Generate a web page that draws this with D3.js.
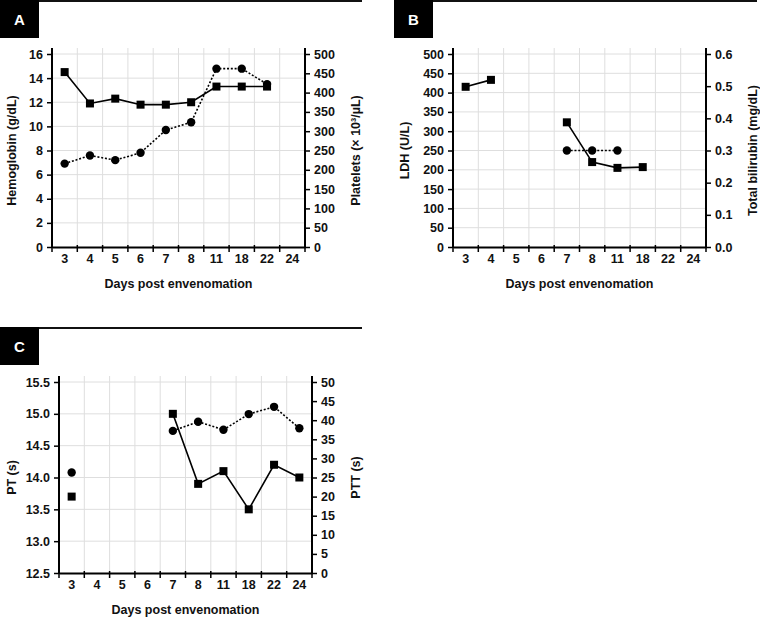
<!DOCTYPE html>
<html lang="en">
<head>
    <meta charset="UTF-8">
    <title>Days post envenomation</title>
    <script src="https://d3js.org/d3.v7.min.js"></script>
    <style>
        body { margin: 0; background: #fff; }
        svg { font-family: "Liberation Sans", Arial, sans-serif; }
        .tick text { font-size: 12.5px; font-weight: bold; fill: #111; }
        .title { font-size: 12.5px; font-weight: bold; fill: #111; }
        .grid line { stroke: #dedede; stroke-width: 1; }
        .line { fill: none; stroke: #000; stroke-width: 1.6; }
        .dotted { stroke-dasharray: 2,1.8; }
    </style>
</head>
<body>
    <svg width="760" height="618"></svg>

    <script>
        // shared categories on x
        const days = ["3", "4", "5", "6", "7", "8", "11", "18", "22", "24"];

        // panel A
        const hemoglobin = [14.5, 11.9, 12.3, 11.8, 11.8, 12.0, 13.3, 13.3, 13.3, null];
        const platelets = [216, 237, 225, 244, 303, 323, 462, 462, 422, null];
        const hbTicks = [0, 2, 4, 6, 8, 10, 12, 14, 16];
        const pltTicks = [0, 50, 100, 150, 200, 250, 300, 350, 400, 450, 500];

        // panel B
        const ldh = [415, 433, null, null, 323, 220, 205, 207, null, null];
        const bilirubin = [null, null, null, null, 0.3, 0.3, 0.3, null, null, null];
        const ldhTicks = [0, 50, 100, 150, 200, 250, 300, 350, 400, 450, 500];
        const biliTicks = [0, 0.1, 0.2, 0.3, 0.4, 0.5, 0.6];

        // panel C
        const pt = [13.7, null, null, null, 15.0, 13.9, 14.1, 13.5, 14.2, 14.0];
        const ptt = [26.3, null, null, null, 37.2, 39.6, 37.5, 41.6, 43.5, 37.9];
        const ptTicks = [12.5, 13.0, 13.5, 14.0, 14.5, 15.0, 15.5];
        const pttTicks = [0, 5, 10, 15, 20, 25, 30, 35, 40, 45, 50];

        const svg = d3.select("svg");

        const panels = [
            { label: "A", box: [0, 0], lineTo: 362, left: 52, right: 305, top: 54, bottom: 247, xTitleY: 288,
              lTitle: "Hemoglobin (g/dL)", lTitleX: 12, rTitle: "Platelets (\u00d7 10\u00b3/\u00b5L)", rTitleX: 356,
              lTicks: hbTicks, rTicks: pltTicks, lFmt: d3.format("d"), rFmt: d3.format("d"),
              square: hemoglobin, circle: platelets },
            { label: "B", box: [394, 0], lineTo: 757, left: 453, right: 706, top: 54, bottom: 247, xTitleY: 288,
              lTitle: "LDH (U/L)", lTitleX: 405, rTitle: "Total bilirubin (mg/dL)", rTitleX: 753,
              lTicks: ldhTicks, rTicks: biliTicks, lFmt: d3.format("d"), rFmt: d3.format(".1f"),
              square: ldh, circle: bilirubin },
            { label: "C", box: [0, 327], lineTo: 362, left: 59, right: 312, top: 382, bottom: 573, xTitleY: 614,
              lTitle: "PT (s)", lTitleX: 12, rTitle: "PTT (s)", rTitleX: 356,
              lTicks: ptTicks, rTicks: pttTicks, lFmt: d3.format(".1f"), rFmt: d3.format("d"),
              square: pt, circle: ptt }
        ];

        panels.forEach(p => {
            const g = svg.append("g");

            // header bar + letter box
            g.append("line")
                .attr("x1", p.box[0]).attr("x2", p.lineTo)
                .attr("y1", p.box[1] + 1).attr("y2", p.box[1] + 1)
                .attr("stroke", "#111").attr("stroke-width", 2);
            g.append("rect")
                .attr("x", p.box[0]).attr("y", p.box[1])
                .attr("width", 39).attr("height", 38)
                .attr("fill", "#000");
            g.append("text")
                .attr("x", p.box[0] + 19.5).attr("y", p.box[1] + 25)
                .attr("text-anchor", "middle")
                .attr("fill", "#fff")
                .style("font-size", "15px").style("font-weight", "bold")
                .text(p.label);

            const x = d3.scaleBand().domain(days).range([p.left, p.right]).padding(0);
            const yL = d3.scaleLinear().domain(d3.extent(p.lTicks)).range([p.bottom, p.top]);
            const yR = d3.scaleLinear().domain(d3.extent(p.rTicks)).range([p.bottom, p.top]);
            const frameTop = p.top - 6;

            // grid
            const grid = g.append("g").attr("class", "grid");
            grid.selectAll(".h").data(p.lTicks.slice(1)).join("line")
                .attr("x1", p.left).attr("x2", p.right)
                .attr("y1", d => yL(d)).attr("y2", d => yL(d));
            grid.selectAll(".v").data(d3.range(1, days.length)).join("line")
                .attr("x1", i => p.left + i * x.step()).attr("x2", i => p.left + i * x.step())
                .attr("y1", frameTop).attr("y2", p.bottom);

            // bottom axis: labels at band centres, ticks at band edges
            const xAxis = g.append("g")
                .attr("transform", `translate(0,${p.bottom})`)
                .call(d3.axisBottom(x).tickSize(0).tickPadding(7));
            xAxis.select(".domain").attr("stroke", "#000").attr("stroke-width", 2);
            xAxis.selectAll(".edge").data(d3.range(0, days.length + 1)).join("line")
                .attr("class", "edge")
                .attr("x1", i => p.left + i * x.step()).attr("x2", i => p.left + i * x.step())
                .attr("y1", -2).attr("y2", 5)
                .attr("stroke", "#000").attr("stroke-width", 1.5);

            const lAxis = g.append("g")
                .attr("transform", `translate(${p.left},0)`)
                .call(d3.axisLeft(yL).tickValues(p.lTicks).tickFormat(p.lFmt).tickSizeOuter(0).tickSizeInner(5).tickPadding(4));
            const rAxis = g.append("g")
                .attr("transform", `translate(${p.right},0)`)
                .call(d3.axisRight(yR).tickValues(p.rTicks).tickFormat(p.rFmt).tickSizeOuter(0).tickSizeInner(5).tickPadding(4));
            [lAxis, rAxis].forEach(a => {
                a.select(".domain").remove();
                a.selectAll(".tick line").attr("stroke", "#000").attr("stroke-width", 1.5);
                a.append("line").attr("y1", frameTop).attr("y2", p.bottom + 1)
                    .attr("stroke", "#000").attr("stroke-width", 2);
            });

            // titles
            g.append("text").attr("class", "title")
                .attr("x", (p.left + p.right) / 2).attr("y", p.xTitleY)
                .attr("text-anchor", "middle").text("Days post envenomation");
            g.append("text").attr("class", "title")
                .attr("transform", `translate(${p.lTitleX},${(p.top + p.bottom) / 2}) rotate(-90)`)
                .attr("text-anchor", "middle").attr("dy", "0.35em").text(p.lTitle);
            g.append("text").attr("class", "title")
                .attr("transform", `translate(${p.rTitleX},${(p.top + p.bottom) / 2}) rotate(-90)`)
                .attr("text-anchor", "middle").attr("dy", "0.35em").text(p.rTitle);

            // series
            const sq = days.map((d, i) => ({ day: d, v: p.square[i] }));
            const ci = days.map((d, i) => ({ day: d, v: p.circle[i] }));
            const cx = d => x(d.day) + x.bandwidth() / 2;

            g.append("path").datum(ci).attr("class", "line dotted")
                .attr("d", d3.line().defined(d => d.v != null).x(cx).y(d => yR(d.v)));
            g.append("path").datum(sq).attr("class", "line")
                .attr("d", d3.line().defined(d => d.v != null).x(cx).y(d => yL(d.v)));

            g.selectAll(".sq").data(sq.filter(d => d.v != null)).join("rect")
                .attr("x", d => cx(d) - 4).attr("y", d => yL(d.v) - 4)
                .attr("width", 8).attr("height", 8).attr("fill", "#000");
            g.selectAll(".ci").data(ci.filter(d => d.v != null)).join("circle")
                .attr("cx", cx).attr("cy", d => yR(d.v)).attr("r", 4.2).attr("fill", "#000");
        });
    </script>
</body>
</html>
